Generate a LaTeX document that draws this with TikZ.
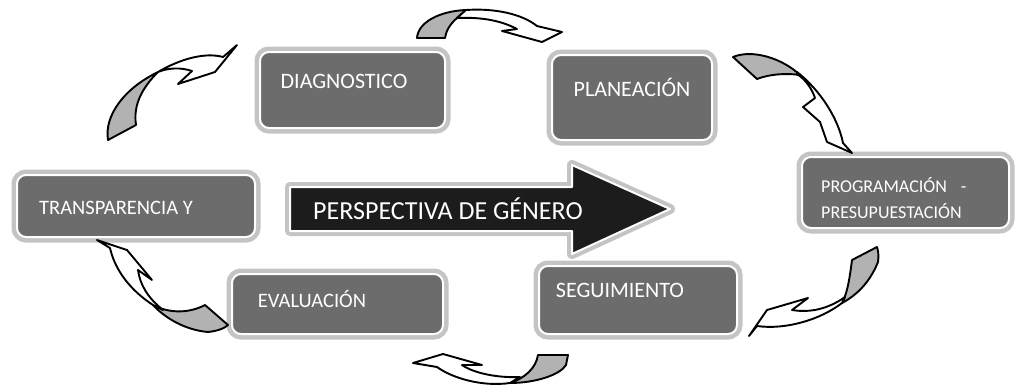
\documentclass[tikz,border=0pt]{standalone}
\usepackage{fontspec}
\setmainfont{Carlito}
\definecolor{boxgray}{RGB}{108,108,108}
\definecolor{halo}{RGB}{196,196,196}
\definecolor{tailgray}{RGB}{178,178,178}
\definecolor{arrowdark}{RGB}{28,28,28}
\begin{document}
\begin{tikzpicture}[x=1pt,y=-1pt,
  box/.style={rounded corners=9pt, fill=boxgray, draw=white, line width=2pt,
    preaction={draw=halo, line width=11pt}, inner sep=0pt},
  lbl/.style={text=white, font=\fontsize{22}{24}\selectfont, inner sep=0pt},
  tailpart/.style={fill=tailgray, draw=black, line width=1.9pt, line join=round},
  bodypart/.style={fill=white, draw=black, line width=1.9pt, line join=round}]
\useasboundingbox (0,0) rectangle (1015,388);
\fill[white] (0,0) rectangle (1015,388);

% boxes
\node[box, minimum width=185pt, minimum height=76pt] (diag) at (352.5,90) {};
\node[box, minimum width=160pt, minimum height=85pt] (plan) at (632,97.5) {};
\node[box, minimum width=207pt, minimum height=71pt] (prog) at (905.5,192.5) {};
\node[box, minimum width=238pt, minimum height=62pt] (trans) at (136,206) {};
\node[box, minimum width=211pt, minimum height=60pt] (eval) at (337.5,304) {};
\node[box, minimum width=198pt, minimum height=68pt] (seg) at (638,300) {};

\node[lbl] (tdiag) at (344,81) {DIAGNOSTICO};
\node[lbl] (tplan) at (632,87) {PLANEACIÓN};
\node[lbl, font=\fontsize{18}{26}\selectfont, align=left, anchor=west] (tprog) at (821,198) {PROGRAMACIÓN\hspace{14pt}-\\PRESUPUESTACIÓN};
\node[lbl, font=\fontsize{20.5}{24}\selectfont] (ttrans) at (116,208) {TRANSPARENCIA Y};
\node[lbl, font=\fontsize{20.5}{24}\selectfont] (teval) at (312,299) {EVALUACIÓN};
\node[lbl] (tseg) at (620,290) {SEGUIMIENTO};

% central arrow
\path[fill=arrowdark, draw=white, line width=2pt, line join=round,
  preaction={draw=halo, line width=10pt, line join=round}]
  (290,187) -- (572,187) -- (572,165) -- (670,209) -- (572,254) -- (572,231) -- (290,231) -- cycle;
\node[text=white, font=\fontsize{26}{28}\selectfont, inner sep=0pt] (persp) at (448,209) {PERSPECTIVA DE GÉNERO};

% curved arrow 1 (top left)
\draw[tailpart] (108,140) .. controls (104,115) and (125,88) .. (158,72)
  .. controls (142,88) and (133,105) .. (136,125) -- cycle;
\draw[bodypart] (158,72) .. controls (180,59) and (205,52) .. (223,57) -- (237,45) -- (215,72)
  -- (178,84) -- (192,71) .. controls (180,67) and (168,68) .. (158,72) -- cycle;

% curved arrow 2 (top)
\draw[tailpart] (417,38) .. controls (418,22) and (440,11) .. (466,10) -- (457,18)
  .. controls (450,24) and (446,31) .. (445,38) -- cycle;
\draw[bodypart] (466,10) .. controls (495,8) and (522,14) .. (537,26) -- (562,32) -- (542,42)
  -- (502,31) -- (517,29) .. controls (500,20) and (480,17) .. (457,18) -- cycle;

% curved arrow 3 (top right)
\draw[tailpart] (733,57) .. controls (752,49) and (782,58) .. (800,75)
  .. controls (786,73) and (770,74) .. (757,79) -- cycle;
\draw[bodypart] (797,72) .. controls (820,90) and (838,118) .. (843,143) -- (852,153) -- (827,142)
  -- (820,122) -- (803,107) -- (815,98) .. controls (812,89) and (806,80) .. (797,74) -- cycle;

% curved arrow 4 (bottom right)
\draw[tailpart] (852,260) .. controls (850,275) and (848,292) .. (842,303)
  .. controls (857,295) and (870,282) .. (878,262) .. controls (879,255) and (878,250) .. (877,247) -- cycle;
\draw[bodypart] (842,303) .. controls (820,320) and (785,330) .. (757,326) -- (749,336) -- (767,310)
  -- (808,298) -- (792,310) .. controls (810,313) and (828,309) .. (845,297) -- cycle;

% curved arrow 5 (bottom)
\draw[tailpart] (538,355) .. controls (536,368) and (525,378) .. (510,383)
  .. controls (535,383) and (560,375) .. (566,365) -- (568,355) -- cycle;
\draw[bodypart] (510,383) .. controls (482,387) and (452,378) .. (437,367) -- (413,363) -- (443,354)
  -- (482,365) -- (462,365) .. controls (475,374) and (500,378) .. (520,377) -- cycle;

% curved arrow 6 (bottom left)
\draw[tailpart] (205,305) .. controls (190,313) and (170,314) .. (153,305)
  .. controls (165,318) and (185,330) .. (208,332) .. controls (218,331) and (225,328) .. (228,325) -- cycle;
\draw[bodypart] (153,305) .. controls (130,290) and (115,270) .. (110,248) -- (97,240) -- (127,250)
  -- (152,280) -- (138,270) .. controls (140,285) and (148,298) .. (163,310) -- cycle;
\end{tikzpicture}
\end{document}
